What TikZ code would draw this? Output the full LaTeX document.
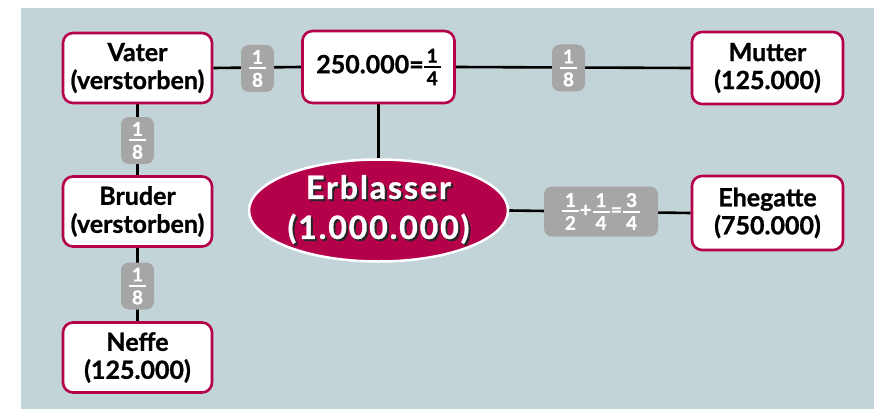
\documentclass[tikz,border=0pt]{standalone}
\usepackage{fontspec}
\setmainfont{Lato}[BoldFeatures={FakeBold=1.0}]
\usetikzlibrary{shapes.geometric,backgrounds}
\definecolor{bg}{HTML}{C2D4D8}
\definecolor{crim}{HTML}{B5004A}
\definecolor{badgegray}{HTML}{A6A6A6}
\newcommand{\fr}[2]{\ensuremath{\vcenter{\offinterlineskip
  \hbox to 17pt{\hss\fontsize{19}{20}\selectfont\bfseries#1\hss}\kern3.5pt
  \hrule height 2pt width 17pt\kern3.5pt
  \hbox to 17pt{\hss\fontsize{19}{20}\selectfont\bfseries#2\hss}}}}
\newcommand{\shadowed}[1]{\rlap{\kern2pt\raisebox{-2pt}{\color{black!85}#1}}#1}
\tikzset{
  person/.style={draw=crim, line width=2.6pt, fill=white, rounded corners=10pt,
    minimum width=149pt, minimum height=70pt, align=center, inner sep=0pt,
    font=\fontsize{25}{28}\selectfont\bfseries},
  badge/.style={fill=badgegray, rounded corners=8pt, minimum width=33pt,
    minimum height=47pt, text=white, inner sep=1pt,
    font=\fontsize{20}{22}\selectfont\bfseries},
  conn/.style={line width=2.6pt, black},
  bigtext/.style={align=center, inner sep=0pt, text=white,
    font=\fontsize{32}{40}\selectfont\bfseries\addfontfeature{LetterSpace=6}}
}
\begin{document}
\begin{tikzpicture}[x=1pt,y=-1pt]
\useasboundingbox (0,0) rectangle (874,409);
\node[person] (vater) at (137.5,68) {Vater\\(verstorben)};
\node[person] (bruder) at (137.5,211.5) {Bruder\\(verstorben)};
\node[person] (neffe) at (137.5,357.5) {Neffe\\(125.000)};
\node[person, minimum width=152pt, minimum height=72pt] (top) at (378.5,67) {250.000=\fr{1}{4}};
\node[person, minimum width=151pt, minimum height=72pt] (mutter) at (767.5,68) {Mutter\\(125.000)};
\node[person, minimum width=151pt, minimum height=74pt] (ehe) at (767.5,213) {Ehegatte\\(750.000)};
\node[ellipse, fill=crim, draw=white, line width=2.5pt, minimum width=259pt, minimum height=102pt, inner sep=0pt] (ell) at (378.5,210.5) {};
\node[bigtext] (elltext) at (378.5,210.5) {\shadowed{Erblasser}\\\shadowed{(1.000.000)}};
\node[badge] (b1) at (257.5,68.5) {\fr{1}{8}};
\node[badge] (b2) at (568.5,68) {\fr{1}{8}};
\node[badge] (b3) at (137.5,140.5) {\fr{1}{8}};
\node[badge] (b4) at (137.5,286) {\fr{1}{8}};
\node[badge, minimum width=114pt, minimum height=50pt] (b5) at (601,211.5) {\fr{1}{2}\kern1pt+\kern1pt\fr{1}{4}\kern1pt=\kern1pt\fr{3}{4}};
\begin{scope}[on background layer]
\fill[bg] (21,8) rectangle (874,409);
\draw[conn] (vater.east) -- (top.west);
\draw[conn] (top.east) -- (mutter.west);
\draw[conn] (vater.south) -- (bruder.north);
\draw[conn] (bruder.south) -- (neffe.north);
\draw[conn] (top.south) -- (ell.north);
\draw[conn] (ell.east) -- (ehe.west);
\end{scope}
\end{tikzpicture}
\end{document}
